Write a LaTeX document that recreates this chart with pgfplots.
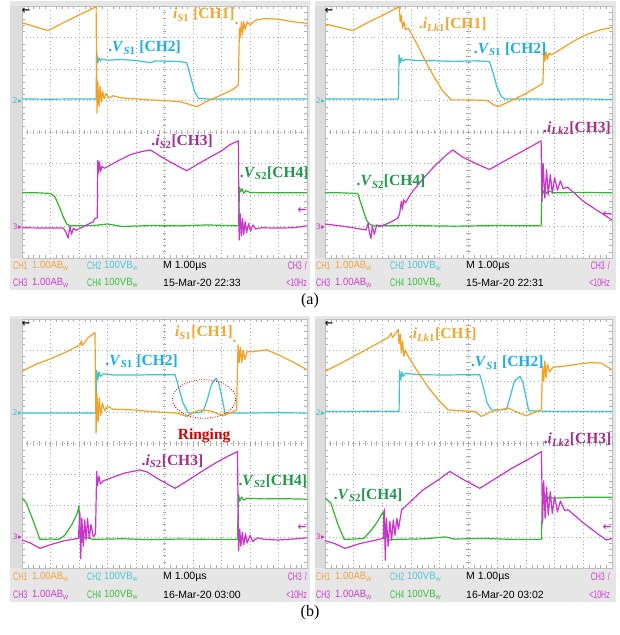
\documentclass[border=0pt]{standalone}
\usepackage{fontspec}
\setmainfont{Liberation Serif}
\newfontfamily\scopefont{Liberation Sans}
\newfontfamily\scopenarrow[FakeStretch=0.64]{Liberation Sans}
\newfontfamily\scopemid[FakeStretch=0.9]{Liberation Sans}
\newfontfamily\djv{DejaVu Sans}
\usepackage{pgfplots}
\pgfplotsset{compat=1.18}

% trace colours
\definecolor{t1}{HTML}{F5A021}
\definecolor{t2}{HTML}{3DC4CC}
\definecolor{t3}{HTML}{CC33CC}
\definecolor{t4}{HTML}{2DB82D}
% label colours
\definecolor{l1}{HTML}{F2A72E}
\definecolor{l2}{HTML}{1AAEE8}
\definecolor{l3}{HTML}{A3308F}
\definecolor{l4}{HTML}{1F9A4B}
% status bar colours
\definecolor{s1}{HTML}{F5A23A}
\definecolor{s2}{HTML}{4CC6D6}
\definecolor{s3}{HTML}{D43AD4}
\definecolor{s4}{HTML}{3CC03C}
\definecolor{bar}{HTML}{E6E6E6}
\definecolor{strip}{HTML}{DCDCDC}

\pgfplotsset{
  scopescreen/.style={
    scale only axis, anchor=south west,
    xmin=0, xmax=10, ymin=-4, ymax=4,
    xtick={0,...,10}, ytick={-4,...,4},
    xticklabels={}, yticklabels={},
    grid=major,
    major grid style={black!35, line width=0.7pt, dash pattern=on 0.7pt off 3.1pt},
    minor x tick num=4, minor y tick num=4,
    tick align=inside, major tick length=0pt, minor tick length=3pt,
    minor tick style={black!32},
    axis line style={black!25, line width=0.4pt},
    axis background/.style={fill=white},
    clip mode=individual,
    every axis plot/.append style={line width=1.2pt, line join=round},
  },
}

\newcommand\centreticks{%
  \pgfplotsinvokeforeach{0.2,0.4,...,9.9}{\draw[black!32, line width=0.5pt] (axis cs:##1,-0.07) -- (axis cs:##1,0.07);}
  \pgfplotsinvokeforeach{-3.8,-3.6,...,3.9}{\draw[black!32, line width=0.5pt] (axis cs:4.93,##1) -- (axis cs:5.07,##1);}
}

\newcommand\markers[1]{%
  \node[anchor=east, inner sep=0pt, text=t2, font=\fontsize{7.5}{7.5}\selectfont\djv] at (axis cs:0,1) {2\kern0.3pt▸};
  \node[anchor=east, inner sep=0pt, text=t3, font=\fontsize{7.5}{7.5}\selectfont\djv] at (axis cs:0,-3) {3\kern0.3pt▸};
  \node[inner sep=0pt, font=\fontsize{10}{10}\selectfont\djv\bfseries] at (axis cs:0.14,3.84) {←};
  \node[anchor=east, inner sep=0pt, text=t3, font=\fontsize{11}{11}\selectfont\djv\bfseries] at (axis cs:10,#1) {←};
}

\newcommand\bw{B\raisebox{-1.5pt}{\fontsize{6}{6}\selectfont W}}
% status bar: #1 x shift, #2 y of first row, #3 y of second row, #4 date
\newcommand\statbar[4]{%
  \begin{scope}[shift={(#1,0)}, every node/.style={inner sep=0pt, anchor=west}]
    \node[text=s1, font=\fontsize{11}{11}\selectfont\scopenarrow] at (13,#2) {CH1};
    \node[text=s1, font=\fontsize{10.5}{11}\selectfont\scopemid] at (32,#2) {1.00A\bw};
    \node[text=s2, font=\fontsize{11}{11}\selectfont\scopenarrow] at (87,#2) {CH2};
    \node[text=s2, font=\fontsize{10.5}{11}\selectfont\scopemid] at (104,#2) {100V\bw};
    \node[font=\fontsize{10.5}{11}\selectfont\scopefont] at (163,#2) {M 1.00µs};
    \node[anchor=east, text=s3, font=\fontsize{11}{11}\selectfont\scopenarrow] at (307,#2) {CH3 \kern1pt/};
    \node[text=s3, font=\fontsize{11}{11}\selectfont\scopenarrow] at (13,#3) {CH3};
    \node[text=s3, font=\fontsize{10.5}{11}\selectfont\scopemid] at (32,#3) {1.00A\bw};
    \node[text=s4, font=\fontsize{11}{11}\selectfont\scopenarrow] at (87,#3) {CH4};
    \node[text=s4, font=\fontsize{10.5}{11}\selectfont\scopemid] at (104,#3) {100V\bw};
    \node[font=\fontsize{10.5}{11}\selectfont\scopefont] at (163,#3) {#4};
    \node[anchor=east, text=s3, font=\fontsize{11}{11}\selectfont\scopenarrow] at (307,#3) {<10Hz};
  \end{scope}
}

\newcommand\lab{\fontsize{15.5}{15.5}\selectfont\bfseries}

\begin{document}
\begin{tikzpicture}[x=1pt, y=1pt]
\path[use as bounding box] (0,0) rectangle (619,635);
% frames
\fill[bar] (10,345) rectangle (310,634);
\fill[bar] (315,345) rectangle (616,634);
\fill[bar] (10,33) rectangle (310,319);
\fill[bar] (315,33) rectangle (616,319);
\fill[strip] (10,377) rectangle (22,629);
\fill[strip] (315,377) rectangle (325,629);
\fill[strip] (10,67) rectangle (22,316);
\fill[strip] (315,67) rectangle (325,316);

% ---------------- (a) left ----------------
\begin{axis}[scopescreen, at={(22pt,377pt)}, width=285pt, height=252pt]
\centreticks
\addplot[t4] coordinates {(0,-1.93)(0.5,-1.93)(1.0,-1.95)(1.15,-2.05)(1.3,-2.35)(1.45,-2.7)(1.57,-2.92)(1.7,-2.98)(2.5,-2.97)(3.0,-2.92)(3.5,-3.0)(4.5,-2.97)(5.5,-2.98)(6.5,-2.95)(7.6,-2.98)(7.63,-1.75)(7.67,-1.9)(7.72,-1.8)(7.78,-1.95)(7.85,-1.86)(8.0,-1.92)(8.5,-1.93)(9,-1.93)(10,-1.93)};
\addplot[t3] coordinates {(0,-3.04)(1.0,-3.05)(1.45,-3.05)(1.55,-3.2)(1.62,-3.37)(1.68,-3.0)(1.74,-3.25)(1.8,-3.05)(1.9,-3.12)(2.2,-2.98)(2.5,-2.85)(2.55,-2.75)(2.64,-2.72)(2.66,-0.9)(2.69,-1.3)(2.72,-0.95)(2.76,-1.25)(2.8,-1.1)(2.9,-1.15)(3.1,-1.05)(3.4,-0.9)(3.8,-0.72)(4.2,-0.62)(4.5,-0.57)(4.7,-0.68)(5.0,-0.85)(5.3,-1.0)(5.78,-1.23)(6.2,-1.0)(6.6,-0.8)(7.0,-0.6)(7.3,-0.4)(7.59,-0.28)(7.62,-3.43)(7.66,-2.6)(7.70,-3.3)(7.74,-2.75)(7.78,-3.25)(7.83,-2.85)(7.88,-3.2)(7.95,-2.9)(8.02,-3.15)(8.1,-2.95)(8.2,-3.08)(8.4,-3.04)(9,-3.05)(9.5,-3.04)(10,-2.98)};
\addplot[t2] coordinates {(0,1.05)(1,1.04)(2,1.05)(2.6,1.05)(2.62,2.55)(2.66,2.2)(2.7,2.35)(2.75,2.25)(2.8,2.32)(3.0,2.28)(3.5,2.30)(4.0,2.27)(4.5,2.20)(4.7,2.26)(5.0,2.25)(5.5,2.24)(5.78,2.20)(5.9,1.8)(6.05,1.3)(6.19,1.07)(6.5,1.05)(7,1.05)(8,1.05)(9,1.05)(10,1.05)};
\addplot[t1] coordinates {(0,3.47)(0.5,3.33)(0.92,3.22)(1.3,3.40)(1.7,3.58)(2.1,3.76)(2.4,3.88)(2.6,3.98)(2.63,0.6)(2.66,1.6)(2.70,0.8)(2.74,1.45)(2.78,0.95)(2.83,1.3)(2.88,1.05)(2.95,1.22)(3.05,1.08)(3.2,1.15)(3.5,1.08)(4.0,1.05)(4.5,1.02)(5.0,1.0)(5.54,0.96)(5.8,0.9)(6.13,0.8)(6.5,0.98)(7.0,1.18)(7.4,1.35)(7.59,1.49)(7.63,3.3)(7.66,3.0)(7.70,3.5)(7.74,3.1)(7.78,3.5)(7.83,3.25)(7.9,3.5)(8.0,3.4)(8.2,3.55)(8.5,3.6)(9.0,3.58)(9.5,3.5)(10,3.45)};
\node[text=l1, font=\lab] at (axis cs:6.45,3.66) {\textit{i}\textsubscript{\textit{S}1} [CH1]\raisebox{-6pt}{.}};
\node[text=l2, font=\lab] at (axis cs:4.3,2.68) {.\textit{V}\textsubscript{\textit{S}1} [CH2]};
\node[text=l3, font=\lab] at (axis cs:5.62,-0.31) {.\textit{i}\textsubscript{\textit{S}2}[CH3]};
\node[text=l4, font=\lab] at (axis cs:8.85,-1.31) {.\textit{V}\textsubscript{\textit{S}2}[CH4]};
\markers{-2.48}
\end{axis}

% ---------------- (a) right ----------------
\begin{axis}[scopescreen, at={(325pt,377pt)}, width=287pt, height=252pt]
\centreticks
\addplot[t4] coordinates {(0,-1.93)(0.5,-1.93)(1.14,-1.95)(1.3,-2.4)(1.45,-2.8)(1.55,-2.92)(1.7,-2.98)(3,-2.97)(4.5,-2.99)(6,-2.97)(7.53,-2.98)(7.56,-1.78)(7.6,-1.95)(7.65,-1.82)(7.72,-1.95)(7.8,-1.88)(8,-1.93)(9,-1.92)(10,-1.93)};
\addplot[t3] coordinates {(0,-2.92)(0.7,-3.0)(1.43,-3.11)(1.5,-2.9)(1.55,-3.2)(1.6,-3.38)(1.65,-3.0)(1.72,-3.25)(1.8,-2.95)(1.9,-3.0)(2.2,-2.9)(2.53,-2.74)(2.6,-2.6)(2.66,-2.2)(2.7,-2.45)(2.74,-2.15)(2.8,-2.25)(3.0,-1.95)(3.4,-1.5)(3.8,-1.1)(4.2,-0.75)(4.45,-0.57)(4.8,-0.8)(5.2,-0.98)(5.73,-1.19)(6.2,-0.95)(6.7,-0.7)(7.2,-0.45)(7.53,-0.28)(7.56,-2.2)(7.6,-1.0)(7.66,-2.1)(7.72,-1.2)(7.78,-2.0)(7.85,-1.35)(7.92,-1.95)(8.0,-1.45)(8.1,-1.85)(8.2,-1.55)(8.3,-1.8)(8.45,-1.75)(8.7,-1.95)(9.0,-2.2)(9.5,-2.5)(10,-2.79)};
\addplot[t2] coordinates {(0,1.05)(1,1.05)(2,1.04)(2.56,1.05)(2.58,2.45)(2.62,2.2)(2.66,2.35)(2.7,2.25)(2.8,2.3)(3.2,2.27)(3.8,2.26)(4.5,2.24)(5.2,2.26)(5.73,2.24)(5.85,1.9)(6.0,1.4)(6.15,1.12)(6.26,1.05)(7,1.05)(8,1.04)(9,1.05)(10,1.03)};
\addplot[t1] coordinates {(0,3.43)(0.5,3.32)(0.97,3.22)(1.5,3.48)(2.0,3.70)(2.59,3.98)(2.62,3.5)(2.66,3.7)(2.70,3.3)(2.75,3.5)(2.8,3.25)(2.9,3.3)(3.2,2.8)(3.5,2.25)(3.8,1.75)(4.1,1.3)(4.4,1.02)(5.0,1.02)(5.67,1.0)(5.85,0.88)(6.02,0.80)(6.5,1.0)(7.0,1.22)(7.59,1.54)(7.63,2.6)(7.66,2.25)(7.70,2.55)(7.75,2.3)(7.8,2.5)(7.9,2.45)(8.2,2.62)(8.6,2.85)(9.0,3.05)(9.5,3.22)(10,3.32)};
\node[text=l1, font=\lab] at (axis cs:4.45,3.40) {.\textit{i}\textsubscript{\textit{Lk}1}[CH1]};
\node[text=l2, font=\lab] at (axis cs:6.45,2.62) {.\textit{V}\textsubscript{\textit{S}1} [CH2]};
\node[text=l3, font=\lab] at (axis cs:8.78,0.12) {.\textit{i}\textsubscript{\textit{Lk}2}[CH3]};
\node[text=l4, font=\lab] at (axis cs:2.3,-1.58) {.\textit{V}\textsubscript{\textit{S}2}[CH4]};
\markers{-2.63}
\end{axis}

% ---------------- (b) left ----------------
\begin{axis}[scopescreen, at={(22pt,67pt)}, width=285pt, height=249pt]
\centreticks
\addplot[t4] coordinates {(0,-1.76)(0.15,-1.9)(0.4,-2.5)(0.63,-3.08)(1.0,-3.07)(1.3,-3.08)(1.5,-2.95)(1.75,-2.6)(1.94,-2.24)(2.0,-2.0)(2.04,-3.05)(2.08,-2.8)(2.12,-3.15)(2.2,-3.0)(2.5,-3.08)(3.5,-3.06)(4.5,-3.09)(5.5,-3.07)(6.5,-3.08)(7.56,-3.08)(7.6,-1.65)(7.64,-1.85)(7.7,-1.72)(7.78,-1.82)(7.9,-1.76)(8.5,-1.78)(9,-1.77)(10,-1.79)};
\addplot[t3] coordinates {(0,-3.1)(0.3,-3.2)(0.63,-3.37)(1.0,-3.25)(1.5,-3.12)(1.98,-3.05)(2.03,-2.2)(2.06,-3.7)(2.1,-2.4)(2.15,-3.3)(2.2,-2.45)(2.25,-3.1)(2.3,-2.4)(2.36,-3.05)(2.42,-2.6)(2.5,-3.0)(2.58,-2.9)(2.62,-0.9)(2.65,-1.35)(2.7,-1.05)(2.75,-1.3)(2.85,-1.2)(3.2,-1.08)(3.6,-0.95)(4.14,-0.85)(4.4,-0.92)(4.8,-1.15)(5.37,-1.44)(5.8,-1.2)(6.3,-0.9)(6.8,-0.62)(7.2,-0.42)(7.56,-0.26)(7.6,-3.45)(7.64,-2.75)(7.68,-3.3)(7.73,-2.85)(7.78,-3.25)(7.84,-2.9)(7.9,-3.2)(8.0,-2.95)(8.1,-3.15)(8.25,-3.03)(8.5,-3.08)(9,-3.1)(9.5,-3.07)(10,-3.03)};
\addplot[t2] coordinates {(0,0.98)(1,0.98)(2,0.98)(2.6,0.98)(2.62,2.35)(2.66,2.05)(2.7,2.3)(2.75,2.15)(2.85,2.24)(3.2,2.2)(4,2.2)(4.7,2.21)(5.37,2.21)(5.5,1.8)(5.65,1.3)(5.84,0.98)(6.2,0.99)(6.36,1.05)(6.5,1.4)(6.65,1.9)(6.81,2.1)(6.9,1.95)(7.0,1.55)(7.12,0.98)(8,0.98)(9,0.99)(10,0.98)};
\addplot[t1] coordinates {(0,2.32)(0.5,2.55)(1.0,2.72)(1.5,2.92)(2.04,3.17)(2.08,3.3)(2.12,3.15)(2.3,3.38)(2.56,3.57)(2.6,0.33)(2.63,1.6)(2.67,0.7)(2.71,1.45)(2.76,0.9)(2.82,1.3)(2.9,1.05)(3.0,1.2)(3.2,1.1)(3.9,1.08)(4.6,1.02)(5.43,0.98)(5.78,0.87)(6.0,0.98)(6.25,1.08)(6.6,1.05)(7.06,0.89)(7.3,0.98)(7.53,1.08)(7.58,3.17)(7.62,2.6)(7.66,3.1)(7.71,2.6)(7.76,3.0)(7.82,2.7)(7.9,2.95)(8.1,2.95)(8.58,3.01)(9.0,2.85)(9.5,2.62)(10,2.37)};
\draw[red, line width=0.9pt, dash pattern=on 0.9pt off 1.6pt] (axis cs:6.39,1.43) ellipse [x radius=1.11, y radius=0.62];
\node[text=red!85!black, font=\lab] at (axis cs:6.39,0.25) {Ringing};
\node[text=l1, font=\lab] at (axis cs:6.45,3.5) {\textit{i}\textsubscript{\textit{S}1}[CH1]\raisebox{-6pt}{.}};
\node[text=l2, font=\lab] at (axis cs:4.2,2.64) {.\textit{V}\textsubscript{\textit{S}1} [CH2]};
\node[text=l3, font=\lab] at (axis cs:5.28,-0.58) {.\textit{i}\textsubscript{\textit{S}2}[CH3]};
\node[text=l4, font=\lab] at (axis cs:8.8,-1.22) {.\textit{V}\textsubscript{\textit{S}2}[CH4]};
\markers{-2.69}
\end{axis}

% ---------------- (b) right ----------------
\begin{axis}[scopescreen, at={(325pt,67pt)}, width=287pt, height=249pt]
\centreticks
\addplot[t4] coordinates {(0,-1.76)(0.2,-1.9)(0.45,-2.6)(0.67,-3.08)(1.0,-3.07)(1.35,-3.05)(1.6,-2.8)(1.8,-2.55)(2.03,-2.19)(2.06,-3.08)(2.12,-2.9)(2.2,-3.1)(2.5,-3.08)(3.5,-3.06)(4.2,-3.0)(4.5,-3.07)(5.5,-3.05)(6.5,-3.08)(7.54,-3.08)(7.58,-1.6)(7.62,-1.85)(7.67,-1.65)(7.74,-1.82)(7.82,-1.7)(7.95,-1.76)(8.5,-1.74)(9,-1.73)(10,-1.73)};
\addplot[t3] coordinates {(0,-3.12)(0.35,-3.22)(0.7,-3.37)(1.2,-3.22)(2.03,-3.05)(2.07,-2.1)(2.1,-3.75)(2.14,-2.4)(2.2,-3.3)(2.26,-2.5)(2.32,-3.1)(2.38,-2.45)(2.44,-2.95)(2.5,-2.4)(2.56,-2.75)(2.67,-2.13)(3.0,-1.85)(3.4,-1.5)(3.9,-1.2)(4.35,-0.9)(4.8,-1.15)(5.39,-1.44)(5.9,-1.15)(6.5,-0.8)(7.1,-0.5)(7.54,-0.26)(7.58,-2.56)(7.62,-1.2)(7.67,-2.4)(7.72,-1.4)(7.78,-2.3)(7.85,-1.55)(7.92,-2.25)(8.0,-1.7)(8.1,-2.2)(8.2,-1.85)(8.35,-2.15)(8.47,-2.13)(9.0,-2.55)(9.5,-2.9)(9.8,-3.1)(10,-3.05)};
\addplot[t2] coordinates {(0,1.03)(1,1.03)(2,1.04)(2.58,1.03)(2.6,2.35)(2.64,2.05)(2.68,2.3)(2.72,2.15)(2.8,2.25)(3.3,2.21)(4.2,2.2)(4.8,2.21)(5.39,2.21)(5.52,1.8)(5.65,1.3)(5.8,1.08)(6.32,1.08)(6.45,1.5)(6.6,2.0)(6.79,2.16)(6.9,1.95)(7.0,1.5)(7.1,1.05)(8,1.03)(9,1.03)(10,1.03)};
\addplot[t1] coordinates {(0,2.32)(0.6,2.6)(1.2,2.9)(1.8,3.2)(2.2,3.4)(2.3,3.55)(2.35,3.4)(2.55,3.66)(2.58,3.2)(2.62,3.5)(2.66,2.9)(2.7,3.3)(2.75,2.8)(2.8,3.0)(2.9,2.8)(3.2,2.35)(3.6,1.8)(4.0,1.35)(4.29,1.08)(4.8,1.05)(5.22,1.03)(5.45,0.87)(5.8,1.03)(6.38,1.14)(6.7,1.0)(7.02,0.89)(7.3,1.0)(7.54,1.08)(7.58,2.48)(7.62,2.0)(7.66,2.65)(7.7,2.1)(7.75,2.55)(7.82,2.3)(7.95,2.45)(8.3,2.48)(8.8,2.55)(9.3,2.6)(9.63,2.58)(10,2.37)};
\node[text=l1, font=\lab] at (axis cs:4.1,3.5) {.\textit{i}\textsubscript{\textit{Lk}1}[CH1]};
\node[text=l2, font=\lab] at (axis cs:6.35,2.6) {.\textit{V}\textsubscript{\textit{S}1} [CH2]};
\node[text=l3, font=\lab] at (axis cs:8.8,0.12) {.\textit{i}\textsubscript{\textit{Lk}2}[CH3]};
\node[text=l4, font=\lab] at (axis cs:1.5,-1.65) {.\textit{V}\textsubscript{\textit{S}2}[CH4]};
\markers{-2.69}
\end{axis}

\statbar{0}{369}{352}{15-Mar-20 22:33}
\statbar{303}{369}{352}{15-Mar-20 22:31}
\statbar{0}{58}{40}{16-Mar-20 03:00}
\statbar{303}{58}{40}{16-Mar-20 03:02}

\node[font=\fontsize{16}{16}\selectfont] at (310,334) {(a)};
\node[font=\fontsize{16}{16}\selectfont] at (310,22) {(b)};
\end{tikzpicture}
\end{document}
